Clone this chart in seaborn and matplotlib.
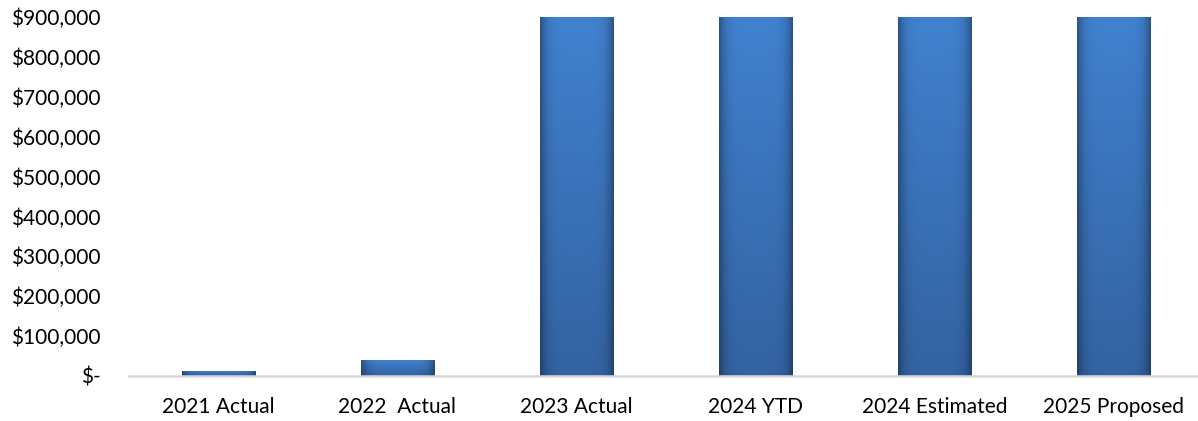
import numpy as np
import pandas as pd
import matplotlib
matplotlib.use("Agg")
import matplotlib.pyplot as plt
import seaborn as sns
from matplotlib.ticker import FuncFormatter

categories = ["2021 Actual", "2022  Actual", "2023 Actual", "2024 YTD", "2024 Estimated", "2025 Proposed"]
values = [13000, 40000, 1250000, 1300000, 1350000, 1400000]
y_ticks = [0, 100000, 200000, 300000, 400000, 500000, 600000, 700000, 800000, 900000]

sns.set_theme(style="white")
plt.rcParams["font.family"] = ["Lato", "DejaVu Sans"]

df = pd.DataFrame({"cat": categories, "val": values})

fig = plt.figure(figsize=(11.98, 4.21), dpi=100)
ax = fig.add_axes([129/1198, 1 - 376/421, (1203 - 129)/1198, (376 - 17)/421])
sns.barplot(data=df, x="cat", y="val", color="#3A73BC", width=0.41, ax=ax, saturation=1)

ax.set_ylim(0, 900000)
ax.set_xlim(-0.5, 5.5)
ax.set_yticks(y_ticks)

def fmt(v, pos):
    if v == 0:
        return "$-"
    return f"${v:,.0f}"

ax.yaxis.set_major_formatter(FuncFormatter(fmt))
ax.tick_params(axis="y", length=0, pad=20.5, labelsize=15, colors="#000000")
ax.tick_params(axis="x", length=0, pad=15, labelsize=15, colors="#000000")
ax.set_xlabel("")
ax.set_ylabel("")
for s in ["top", "right", "left"]:
    ax.spines[s].set_visible(False)
ax.spines["bottom"].set_color("#D9D9D9")
ax.spines["bottom"].set_linewidth(1.8)
ax.spines["bottom"].set_zorder(5)

# gradient shading on bars
nx, ny = 64, 64
xs = np.linspace(0, 1, nx)
prof = 1 - 0.35 * (np.abs(xs - 0.5) * 2) ** 6
top = np.array([0x41, 0x81, 0xCF]) / 255
bot = np.array([0x33, 0x63, 0xA2]) / 255
ys = np.linspace(0, 1, ny)[:, None]
base = top[None, None, :] * (1 - ys[..., None]) + bot[None, None, :] * ys[..., None]
img = base * prof[None, :, None]
img = np.clip(img, 0, 1)
for p in list(ax.patches):
    x0 = p.get_x(); w = p.get_width(); h = p.get_height()
    htop = min(h, 900000)
    im = ax.imshow(img, extent=(x0, x0 + w, 0, htop), origin="upper", aspect="auto", zorder=3)
    im.set_clip_path(p)
    p.set_edgecolor("none")
ax.set_xlim(-0.5, 5.5)
ax.set_ylim(0, 900000)

fig.savefig("out.png", dpi=100)
